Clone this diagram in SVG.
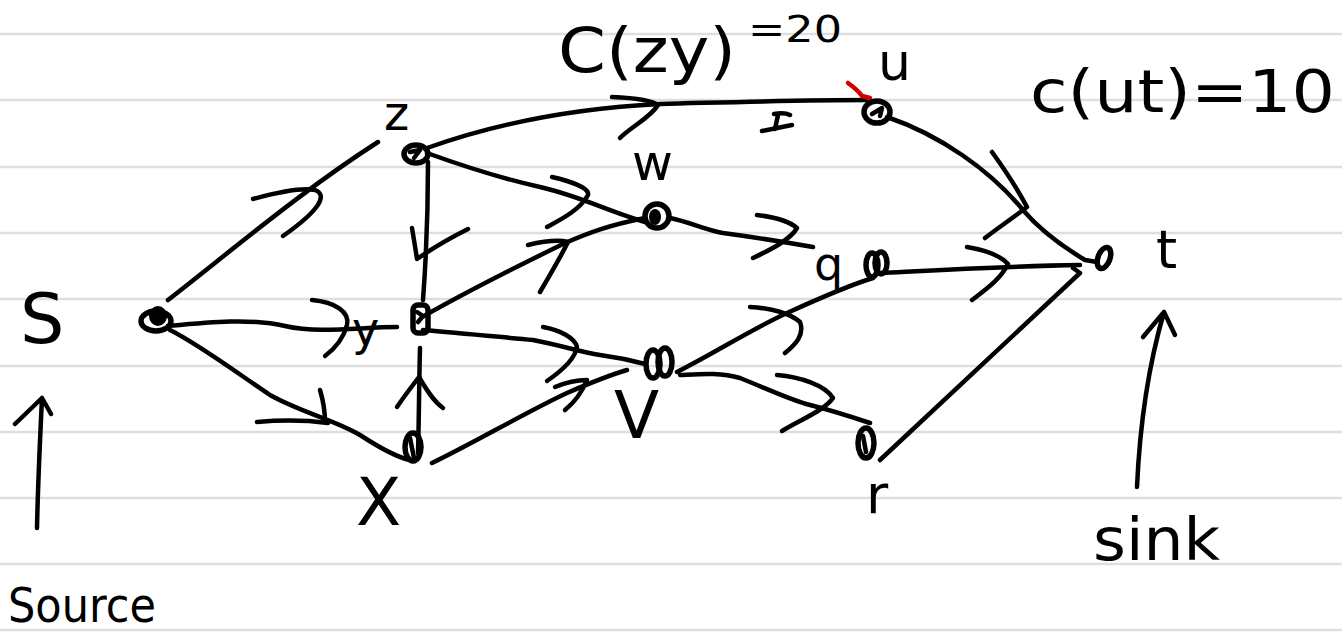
<svg xmlns="http://www.w3.org/2000/svg" width="1342" height="639" viewBox="0 0 1342 639">
<style>
.ln{stroke:#dedede;stroke-width:2.5}
.e{fill:none;stroke:#000;stroke-width:4.5;stroke-linecap:round;stroke-linejoin:round}
.n{fill:none;stroke:#000;stroke-width:5.5}
.t{font-family:"DejaVu Sans","Noto Sans",sans-serif;fill:#000}
</style>
<rect width="1342" height="639" fill="#fff"/>
<g id="paper">
<line class="ln" x1="0" y1="34" x2="1342" y2="34"/>
<line class="ln" x1="0" y1="100" x2="1342" y2="100"/>
<line class="ln" x1="0" y1="167" x2="1342" y2="167"/>
<line class="ln" x1="0" y1="233" x2="1342" y2="233"/>
<line class="ln" x1="0" y1="299" x2="1342" y2="299"/>
<line class="ln" x1="0" y1="366" x2="1342" y2="366"/>
<line class="ln" x1="0" y1="432" x2="1342" y2="432"/>
<line class="ln" x1="0" y1="498" x2="1342" y2="498"/>
<line class="ln" x1="0" y1="564" x2="1342" y2="564"/>
<line class="ln" x1="0" y1="630" x2="1342" y2="630"/>
</g>
<g id="connectors">
<path class="e" d="M168,300 C230,252 300,192 378,142"/>
<path class="e" d="M253,199 C275,193 300,187 315,190 C328,195 320,210 283,236"/>
<path class="e" d="M168,326 C210,322 250,318 285,326 C320,334 360,327 397,327"/>
<path class="e" d="M312,300 C335,302 350,312 347,325 C343,340 333,350 325,356"/>
<path class="e" d="M170,330 C200,345 240,375 270,395 C300,412 335,420 360,435 C380,448 400,458 410,460"/>
<path class="e" d="M257,422 C280,420 305,420 328,423 M320,390 C323,400 325,412 325,422"/>
<path class="e" d="M427,148 C500,122 580,108 660,104 C740,102 800,100 868,100"/>
<path class="e" d="M612,97 C635,98 652,100 658,105 C650,118 632,126 620,138"/>
<path class="e" d="M774,114 C780,113 786,113 790,115 M778,115 L775,129 M762,131 C772,129 782,127 792,125"/>
<path class="e" d="M848,83 C855,88 860,93 862,96 L870,98" style="stroke:#d00000"/>
<path class="e" d="M428,162 C428,200 426,260 423,300"/>
<path class="e" d="M412,228 C414,240 416,252 417,259 C430,250 450,238 468,229"/>
<path class="e" d="M427,153 C460,165 500,178 540,187 C580,196 610,212 645,222"/>
<path class="e" d="M552,177 C570,181 590,188 588,195 C580,210 560,220 547,227"/>
<path class="e" d="M424,316 C470,290 520,265 563,244 C590,232 610,225 645,218"/>
<path class="e" d="M528,245 C545,241 560,240 568,242 C560,258 550,275 540,292"/>
<path class="e" d="M418,453 C419,420 419,385 420,348"/>
<path class="e" d="M397,407 C405,395 413,385 419,377 C425,387 432,400 443,408"/>
<path class="e" d="M423,330 C460,333 500,337 533,340 C560,345 580,352 600,355 C615,357 630,360 645,364"/>
<path class="e" d="M543,327 C560,330 575,338 577,347 C575,360 560,372 547,381"/>
<path class="e" d="M432,463 C470,445 530,410 567,393 C590,383 610,375 627,370"/>
<path class="e" d="M555,387 C567,382 580,380 587,380 C582,392 575,402 565,410"/>
<path class="e" d="M670,218 C690,222 705,230 723,233 C760,238 790,243 813,247"/>
<path class="e" d="M757,215 C775,217 790,222 797,228 C790,240 770,250 753,258"/>
<path class="e" d="M677,372 C720,350 750,330 787,313 C820,298 850,285 873,278"/>
<path class="e" d="M750,307 C770,308 790,313 800,322 C805,335 795,345 785,353"/>
<path class="e" d="M680,375 C700,374 720,372 740,378 C770,390 790,400 810,405 C830,410 855,418 870,423"/>
<path class="e" d="M777,375 C800,377 825,385 833,398 C825,410 800,420 782,431"/>
<path class="e" d="M887,117 C940,135 990,170 1023,210 C1040,230 1060,245 1085,260 L1097,262"/>
<path class="e" d="M992,152 C1005,170 1018,190 1027,207 C1010,220 995,230 985,238"/>
<path class="e" d="M880,273 C940,270 1010,266 1080,265"/>
<path class="e" d="M967,247 C985,250 1000,255 1008,264 C1000,280 985,290 972,300"/>
<path class="e" d="M880,460 L1080,273 L1073,268"/>
<path class="e" d="M37,528 C38,480 40,440 42,398 M15,424 L42,398 L51,414"/>
<path class="e" d="M1137,487 C1140,420 1150,360 1164,312 M1143,337 L1164,312 L1175,335"/>
</g>
<g id="node-s">
<ellipse class="n" cx="156" cy="321" rx="15" ry="10"/>
<ellipse cx="158" cy="316" rx="9" ry="10" fill="#000"/>
<text class="t" x="20" y="343" font-size="70">S</text>
<text class="t" x="8" y="622" font-size="48" textLength="148" lengthAdjust="spacingAndGlyphs">Source</text>
</g>
<g id="node-z">
<ellipse class="n" cx="416" cy="154" rx="12" ry="9"/>
<path class="e" d="M410,152 L420,150 L414,158"/>
<text class="t" x="384" y="130" font-size="48">z</text>
</g>
<g id="node-y">
<rect class="n" x="413" y="305" width="15" height="28" rx="5"/>
<path class="e" d="M417,312 L423,316 L418,322"/>
<text class="t" x="352" y="345" font-size="46">y</text>
</g>
<g id="node-x">
<ellipse class="n" cx="413" cy="447" rx="8" ry="14"/>
<path class="e" d="M410,438 L414,458"/>
<text class="t" x="356" y="525" font-size="66">X</text>
</g>
<g id="node-w">
<ellipse class="n" cx="657" cy="216" rx="12" ry="12"/>
<ellipse cx="655" cy="217" rx="6" ry="8" fill="#000"/>
<text class="t" x="632" y="180" font-size="50">w</text>
</g>
<g id="node-v">
<ellipse class="n" cx="653" cy="364" rx="7" ry="14"/>
<ellipse class="n" cx="665" cy="362" rx="7" ry="14"/>
<text class="t" x="614" y="438" font-size="66">V</text>
</g>
<g id="node-u">
<ellipse class="n" cx="877" cy="112" rx="13" ry="11"/>
<path class="e" d="M872,114 L882,108 L880,116"/>
<text class="t" x="878" y="80" font-size="52">u</text>
</g>
<g id="node-q">
<ellipse class="n" cx="872" cy="265" rx="6" ry="12"/>
<ellipse class="n" cx="881" cy="263" rx="6" ry="11"/>
<text class="t" x="814" y="280" font-size="46">q</text>
</g>
<g id="node-r">
<ellipse class="n" cx="866" cy="443" rx="8" ry="15"/>
<path class="e" d="M863,436 L866,452"/>
<text class="t" x="866" y="513" font-size="54">r</text>
</g>
<g id="node-t">
<ellipse class="n" cx="1104" cy="258" rx="6" ry="11" transform="rotate(20 1104 258)"/>
<text class="t" x="1156" y="268" font-size="54">t</text>
<text class="t" x="1093" y="560" font-size="58" textLength="127" lengthAdjust="spacingAndGlyphs">sink</text>
</g>
<g id="labels">
<text class="t" x="558" y="72" font-size="62" textLength="178" lengthAdjust="spacingAndGlyphs">C(zy)</text>
<text class="t" x="748" y="42" font-size="38" textLength="94" lengthAdjust="spacingAndGlyphs">=20</text>
<text class="t" x="1030" y="112" font-size="58" textLength="305" lengthAdjust="spacingAndGlyphs">c(ut)=10</text>
</g>
</svg>
